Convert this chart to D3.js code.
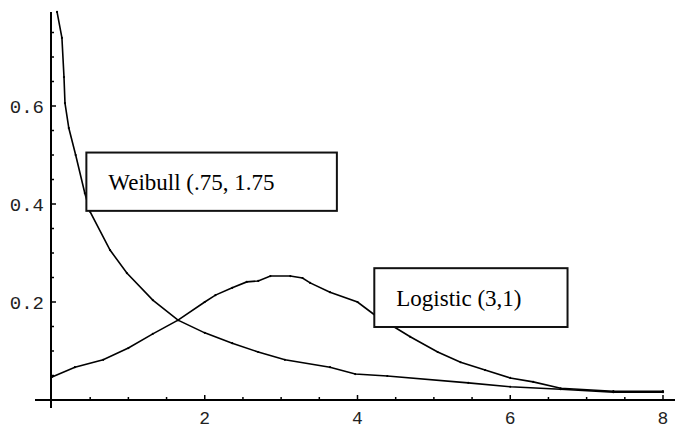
<!DOCTYPE html>
<html>
<head>
<meta charset="utf-8">
<script src="https://cdn.jsdelivr.net/npm/d3@7"></script>
<style>
  body { margin: 0; background: #fff; }
  svg { display: block; }
</style>
</head>
<body>
<div id="chart"></div>
<script>
//-------------------------------------
// data
//-------------------------------------
var weibullX = [0.066, 0.13, 0.157, 0.17, 0.22, 0.31, 0.43, 0.5, 0.76, 0.98, 1.32, 1.65,
	2.0, 2.36, 2.7, 3.05, 3.64, 3.97, 4.39, 5.45, 6.0, 6.66, 7.35, 8.0];
var weibullY = [0.792, 0.739, 0.659, 0.606, 0.555, 0.5, 0.422, 0.384, 0.306, 0.259, 0.204, 0.163,
	0.137, 0.116, 0.098, 0.082, 0.067, 0.053, 0.049, 0.035, 0.027, 0.022, 0.016, 0.016];

var logisticX = [0.0, 0.3, 0.67, 1.0, 1.32, 1.65, 2.0, 2.14, 2.36, 2.55, 2.7, 2.86, 3.12,
	3.28, 3.38, 3.64, 4.0, 4.23, 4.69, 5.05, 5.35, 5.67, 6.0, 6.3, 6.66, 7.35, 8.0];
var logisticY = [0.047, 0.067, 0.082, 0.106, 0.135, 0.163, 0.2, 0.214, 0.229, 0.241, 0.243, 0.253, 0.253,
	0.249, 0.239, 0.22, 0.2, 0.173, 0.129, 0.098, 0.077, 0.061, 0.045, 0.037, 0.024, 0.018, 0.018];

var xTickLabels = [2, 4, 6, 8];
var yTickLabels = [0.2, 0.4, 0.6];

var labels = [
	{ text: "Weibull (.75, 1.75", x: 0.45, y: 0.505, x2: 3.73, y2: 0.386 },
	{ text: "Logistic (3,1)", x: 4.22, y: 0.269, x2: 6.75, y2: 0.149 }
];

//-------------------------------------
// field
//-------------------------------------
var width = 675;
var height = 429;

var svg = d3.select("#chart")
	.append("svg")
	.attr("width", width)
	.attr("height", height);

var x = d3.scaleLinear().domain([0, 8]).range([52, 663]);
var y = d3.scaleLinear().domain([0, 0.2]).range([400, 302]);

// axes lines
svg.append("line")
	.attr("x1", 35).attr("x2", width)
	.attr("y1", y(0)).attr("y2", y(0))
	.style("stroke", "#000").style("stroke-width", 2);

svg.append("line")
	.attr("x1", 51).attr("x2", 51)
	.attr("y1", 12).attr("y2", 408)
	.style("stroke", "#000").style("stroke-width", 2);

// x ticks
var xMinor = d3.range(1, 17).map(function(i) { return i * 0.5; });
svg.selectAll(".xtick")
	.data(xMinor)
	.enter()
	.append("line")
	.attr("x1", function(d) { return x(d); })
	.attr("x2", function(d) { return x(d); })
	.attr("y1", y(0))
	.attr("y2", function(d) { return y(0) - (d % 2 === 0 ? 5 : 3); })
	.style("stroke", "#000").style("stroke-width", 1.5);

svg.selectAll(".xlabel")
	.data(xTickLabels)
	.enter()
	.append("text")
	.attr("x", function(d) { return x(d); })
	.attr("y", 424)
	.attr("text-anchor", "middle")
	.style("font-family", "'Liberation Mono', monospace")
	.style("font-size", "18px")
	.style("fill", "#222")
	.text(function(d) { return d; });

// y ticks
var yMinor = d3.range(1, 16).map(function(i) { return i * 0.05; });
svg.selectAll(".ytick")
	.data(yMinor)
	.enter()
	.append("line")
	.attr("x1", 51)
	.attr("x2", function(d, i) { return 51 + ((i + 1) % 4 === 0 ? 5 : 3); })
	.attr("y1", function(d) { return y(d); })
	.attr("y2", function(d) { return y(d); })
	.style("stroke", "#000").style("stroke-width", 1.5);

svg.selectAll(".ylabel")
	.data(yTickLabels)
	.enter()
	.append("text")
	.attr("x", 44)
	.attr("y", function(d) { return y(d) + 7; })
	.attr("text-anchor", "end")
	.style("font-family", "'Liberation Mono', monospace")
	.style("font-size", "19px")
	.style("fill", "#222")
	.text(function(d) { return d3.format(".1f")(d); });

//-------------------------------------
// curves
//-------------------------------------
function drawCurve(xs, ys) {
	var pts = xs.map(function(d, i) { return [d, ys[i]]; });
	var line = d3.line()
		.x(function(d) { return x(d[0]); })
		.y(function(d) { return y(d[1]); });

	svg.append("path")
		.datum(pts)
		.attr("d", line)
		.style("fill", "none")
		.style("stroke", "#000")
		.style("stroke-width", 1.6);

	svg.append("g").selectAll("circle")
		.data(pts)
		.enter()
		.append("circle")
		.attr("cx", function(d) { return x(d[0]); })
		.attr("cy", function(d) { return y(d[1]); })
		.attr("r", 1.1)
		.style("fill", "#000");
}

drawCurve(weibullX, weibullY);
drawCurve(logisticX, logisticY);

//-------------------------------------
// label boxes
//-------------------------------------
var box = svg.selectAll(".box")
	.data(labels)
	.enter()
	.append("g");

box.append("rect")
	.attr("x", function(d) { return x(d.x); })
	.attr("y", function(d) { return y(d.y); })
	.attr("width", function(d) { return x(d.x2) - x(d.x); })
	.attr("height", function(d) { return y(d.y2) - y(d.y); })
	.style("fill", "#fff")
	.style("stroke", "#111")
	.style("stroke-width", 2);

box.append("text")
	.attr("x", function(d) { return x(d.x) + 22; })
	.attr("y", function(d) { return (y(d.y) + y(d.y2)) / 2 + 8; })
	.style("font-family", "'Liberation Serif', 'Times New Roman', serif")
	.style("font-size", "23px")
	.style("fill", "#000")
	.text(function(d) { return d.text; });
</script>
</body>
</html>
